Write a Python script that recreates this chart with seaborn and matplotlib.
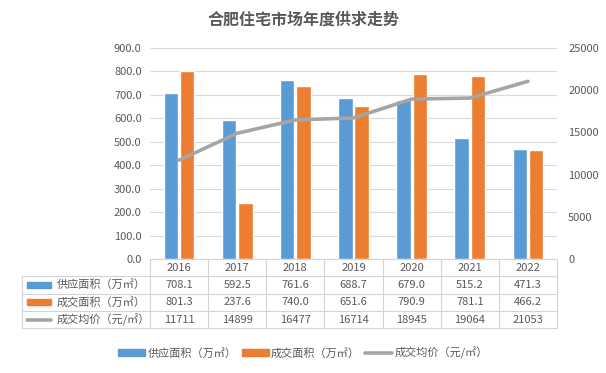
import numpy as np
import pandas as pd
import matplotlib
matplotlib.use("Agg")
import matplotlib.pyplot as plt
import matplotlib.transforms as mtransforms
from matplotlib.patches import Rectangle
from matplotlib.lines import Line2D
import seaborn as sns

years = ["2016", "2017", "2018", "2019", "2020", "2021", "2022"]
supply = [708.1, 592.5, 761.6, 688.7, 679.0, 515.2, 471.3]
deal = [801.3, 237.6, 740.0, 651.6, 790.9, 781.1, 466.2]
price = [11711, 14899, 16477, 16714, 18945, 19064, 21053]
series_names = ["供应面积（万㎡）", "成交面积（万㎡）", "成交均价（元/㎡）"]
title = "合肥住宅市场年度供求走势"

BLUE, ORANGE, GREY = "#5B9BD5", "#ED7D31", "#A5A5A5"
TXT, GRID = "#595959", "#D9D9D9"
FS = 8

sns.set_style("white")
plt.rcParams["font.family"] = ["Noto Sans CJK SC", "DejaVu Sans"]

W, H = 606, 373
fig = plt.figure(figsize=(W / 100, H / 100), dpi=100)
ax_l, ax_r, ax_t, ax_b = 150, 557, 48, 259
ax = fig.add_axes([ax_l / W, 1 - ax_b / H, (ax_r - ax_l) / W, (ax_b - ax_t) / H])

bars = pd.DataFrame({
    "year": years * 2,
    "value": supply + deal,
    "series": [series_names[0]] * len(years) + [series_names[1]] * len(years),
})
sns.barplot(data=bars, x="year", y="value", hue="series", palette=[BLUE, ORANGE],
            width=0.56, gap=0.12, ax=ax, legend=False, saturation=1)
ax.set_ylim(0, 900)
ax.set_yticks(np.arange(0, 901, 100))
ax.set_yticklabels([f"{v:.1f}" for v in np.arange(0, 901, 100)])
ax.set_xlim(-0.5, len(years) - 0.5)
ax.set_xticks([])
ax.set_xlabel("")
ax.set_ylabel("")
ax.grid(axis="y", color=GRID, linewidth=0.8)
ax.set_axisbelow(True)
for s in ax.spines.values():
    s.set_visible(False)
ax.tick_params(axis="y", length=0, labelsize=FS, labelcolor=TXT, pad=6)

ax2 = ax.twinx()
line_df = pd.DataFrame({"year": years, "price": price})
sns.lineplot(data=line_df, x="year", y="price", color=GREY, linewidth=2.6, ax=ax2,
             sort=False)
ax2.set_ylim(0, 25000)
ax2.set_yticks(np.arange(0, 25001, 5000))
ax2.set_xlim(-0.5, len(years) - 0.5)
ax2.set_xlabel("")
ax2.set_ylabel("")
for s in ax2.spines.values():
    s.set_visible(False)
ax2.tick_params(axis="y", length=0, labelsize=FS, labelcolor=TXT, pad=8)

fig.text(0.5, 1 - 20 / H, title, ha="center", va="center", fontsize=11.5,
         fontweight="bold", color=TXT)

# data table under the plot
row_h = 17.3
tab_left = 22
trans = mtransforms.blended_transform_factory(ax.transData, fig.transFigure)
def fy(py):
    return 1 - py / H
def fx(px):
    return px / W

rows_y = [ax_b + i * row_h for i in range(5)]
lc = "#D4D4D4"
fig.add_artist(Line2D([fx(ax_l), fx(ax_r)], [fy(rows_y[0])] * 2, color=lc, lw=0.8))
for y in rows_y[1:]:
    fig.add_artist(Line2D([fx(tab_left), fx(ax_r)], [fy(y)] * 2, color=lc, lw=0.8))
for i in range(len(years) + 1):
    x = i - 0.5
    fig.add_artist(Line2D([x, x], [fy(rows_y[0]), fy(rows_y[4])], color=lc, lw=0.8,
                          transform=trans))
fig.add_artist(Line2D([fx(tab_left)] * 2, [fy(rows_y[1]), fy(rows_y[4])], color=lc, lw=0.8))

for i, yr in enumerate(years):
    fig.text(i, fy(rows_y[0] + row_h / 2), yr, transform=trans, ha="center",
             va="center", fontsize=FS, color=TXT)
table_rows = [[f"{v:.1f}" for v in supply], [f"{v:.1f}" for v in deal],
              [f"{v}" for v in price]]
colors = [BLUE, ORANGE, GREY]
for r, vals in enumerate(table_rows):
    yc = fy(rows_y[r + 1] + row_h / 2)
    for i, v in enumerate(vals):
        fig.text(i, yc, v, transform=trans, ha="center", va="center", fontsize=FS,
                 color=TXT)
    if r < 2:
        fig.add_artist(Rectangle((fx(27), yc - 3 / H), 24 / W, 6 / H, color=colors[r]))
    else:
        fig.add_artist(Line2D([fx(27), fx(51)], [yc, yc], color=colors[r], lw=2.6))
    fig.text(fx(57), yc, series_names[r], ha="left", va="center", fontsize=FS,
             color=TXT)

handles = [Rectangle((0, 0), 1, 1, color=BLUE), Rectangle((0, 0), 1, 1, color=ORANGE),
           Line2D([], [], color=GREY, lw=2.6)]
fig.legend(handles, series_names, loc="center", bbox_to_anchor=(0.5, fy(353)), ncol=3,
           frameon=False, fontsize=FS, labelcolor=TXT, handlelength=2.4,
           handleheight=0.6, handletextpad=0.2, columnspacing=0.5)

fig.savefig("out.png", dpi=100)
